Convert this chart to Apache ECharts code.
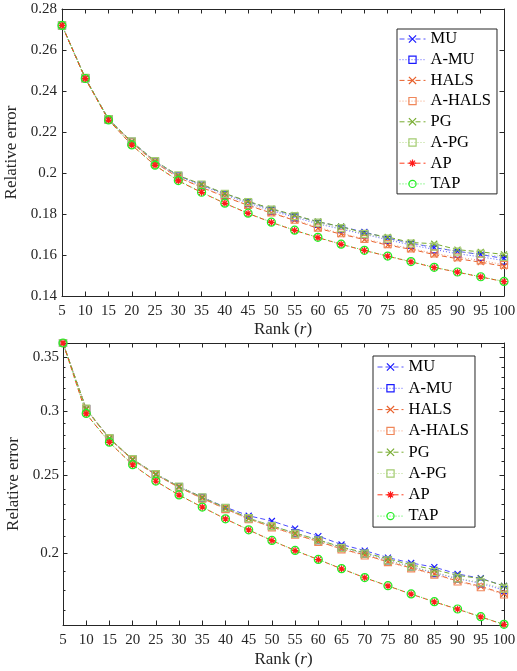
<!DOCTYPE html>
<html><head><meta charset="utf-8">
<script src="https://cdn.jsdelivr.net/npm/echarts@6/dist/echarts.min.js"></script>
<style>html,body{margin:0;padding:0;background:#fff}#c{width:517px;height:671px}</style>
</head><body><div id="c"></div>
<script>
// ---------- data ----------
const ranks = [5,10,15,20,25,30,35,40,45,50,55,60,65,70,75,80,85,90,95,100];
const seriesNames = ['MU','A-MU','HALS','A-HALS','PG','A-PG','AP','TAP'];

const topMU    = [0.2720,0.2463,0.2262,0.2153,0.2057,0.1987,0.1943,0.1899,0.1860,0.1824,0.1792,0.1762,0.1738,0.1712,0.1682,0.1658,0.1636,0.1618,0.1602,0.1583];
const topAMU   = [0.2720,0.2463,0.2262,0.2152,0.2055,0.1984,0.1939,0.1894,0.1853,0.1816,0.1784,0.1752,0.1726,0.1701,0.1674,0.1649,0.1627,0.1606,0.1591,0.1573];
const topHALS  = [0.2720,0.2462,0.2260,0.2148,0.2050,0.1978,0.1930,0.1884,0.1842,0.1805,0.1769,0.1730,0.1702,0.1675,0.1648,0.1628,0.1602,0.1582,0.1565,0.1545];
const topAHALS = [0.2720,0.2462,0.2260,0.2149,0.2051,0.1979,0.1932,0.1886,0.1845,0.1808,0.1772,0.1734,0.1706,0.1679,0.1653,0.1632,0.1608,0.1589,0.1574,0.1552];
const topPG    = [0.2720,0.2464,0.2263,0.2153,0.2058,0.1988,0.1945,0.1900,0.1862,0.1826,0.1795,0.1762,0.1739,0.1707,0.1688,0.1661,0.1655,0.1626,0.1615,0.1603];
const topAPG   = [0.2720,0.2464,0.2263,0.2154,0.2058,0.1988,0.1944,0.1898,0.1858,0.1821,0.1790,0.1758,0.1731,0.1703,0.1680,0.1656,0.1641,0.1616,0.1606,0.1591];
const topAP    = [0.2720,0.2460,0.2258,0.2136,0.2037,0.1962,0.1905,0.1852,0.1803,0.1759,0.1720,0.1685,0.1652,0.1622,0.1594,0.1567,0.1539,0.1516,0.1493,0.1470];
const topTAP   = [0.2720,0.2461,0.2259,0.2137,0.2038,0.1963,0.1906,0.1853,0.1804,0.1760,0.1721,0.1686,0.1653,0.1623,0.1595,0.1568,0.1540,0.1517,0.1494,0.1471];

const botMU    = [0.364,0.3015,0.2772,0.2612,0.2505,0.2418,0.2345,0.2280,0.2225,0.2192,0.2145,0.2100,0.2050,0.2015,0.1975,0.1945,0.1922,0.1885,0.1862,0.1822];
const botAMU   = [0.364,0.3015,0.2772,0.2612,0.2503,0.2415,0.2342,0.2273,0.2210,0.2162,0.2118,0.2076,0.2032,0.1998,0.1960,0.1925,0.1890,0.1860,0.1835,0.1800];
const botHALS  = [0.364,0.3012,0.2770,0.2608,0.2500,0.2412,0.2338,0.2270,0.2205,0.2155,0.2110,0.2068,0.2025,0.1990,0.1952,0.1918,0.1885,0.1848,0.1820,0.1782];
const botAHALS = [0.364,0.3012,0.2770,0.2608,0.2500,0.2410,0.2336,0.2268,0.2203,0.2153,0.2108,0.2066,0.2022,0.1987,0.1950,0.1915,0.1882,0.1845,0.1815,0.1778];
const botPG    = [0.364,0.3018,0.2775,0.2614,0.2506,0.2418,0.2345,0.2276,0.2210,0.2162,0.2118,0.2078,0.2035,0.2003,0.1968,0.1935,0.1908,0.1878,0.1860,0.1822];
const botAPG   = [0.364,0.3020,0.2776,0.2615,0.2506,0.2418,0.2345,0.2275,0.2210,0.2160,0.2115,0.2075,0.2030,0.1998,0.1960,0.1925,0.1895,0.1862,0.1840,0.1808];
const botAP    = [0.364,0.2975,0.2742,0.2572,0.2455,0.2360,0.2280,0.2205,0.2137,0.2073,0.2015,0.1964,0.1913,0.1865,0.1822,0.1780,0.1741,0.1705,0.1668,0.1632];
const botTAP   = [0.364,0.2978,0.2744,0.2574,0.2456,0.2361,0.2281,0.2206,0.2138,0.2074,0.2016,0.1965,0.1914,0.1866,0.1823,0.1781,0.1742,0.1706,0.1669,0.1633];

const topYTicks = [0.14,0.16,0.18,0.2,0.22,0.24,0.26,0.28];
const botYTicks = [0.2,0.25,0.3,0.35];
const botYMinorTicks = [0.17,0.18,0.19,0.21,0.22,0.23,0.24,0.26,0.27,0.28,0.29,0.31,0.32,0.33,0.34,0.36];
const botYRange = [0.163,0.364];

const topData = [topMU,topAMU,topHALS,topAHALS,topPG,topAPG,topAP,topTAP];
const botData = [botMU,botAMU,botHALS,botAHALS,botPG,botAPG,botAP,botTAP];

// ---------- styles ----------
const FONT = 'Liberation Serif';
const AX = '#262626';
const TK = '#262626';
const SYM_X = 'path://M0,0L10,10M10,0L0,10';
const SYM_STAR = 'path://M5,0L5,10M0,5L10,5M1.5,1.5L8.5,8.5M8.5,1.5L1.5,8.5';
const sty = {
  'MU':     {c:'#1a1aff', l:'#4d4dff', dash:[5,3], sym:SYM_X, size:6},
  'A-MU':   {c:'#1a1aff', l:'#5a5aff', dash:[1,2], sym:'rect', size:7},
  'HALS':   {c:'#e8612c', l:'#e8612c', dash:[5,3], sym:SYM_X, size:6},
  'A-HALS': {c:'#f0875a', l:'#f4a07a', dash:[1,2], sym:'rect', size:7},
  'PG':     {c:'#77ac30', l:'#77ac30', dash:[5,3], sym:SYM_X, size:6},
  'A-PG':   {c:'#a3cc70', l:'#b5d88a', dash:[1,2], sym:'rect', size:7},
  'AP':     {c:'#ff1a1a', l:'#ff3b1a', dash:[5,3], sym:SYM_STAR, size:7},
  'TAP':    {c:'#22ee22', l:'#44ee44', dash:[1,2], sym:'circle', size:8}
};

function mkSeries(name, vals, xi, yi) {
  const s = sty[name];
  return {
    name, type:'line', xAxisIndex:xi, yAxisIndex:yi,
    data: ranks.map((r,i)=>[r, vals[i]]),
    symbol: s.sym, symbolSize: s.size, showSymbol:true, silent:true,
    lineStyle:{color:s.l, width:1, type:s.dash},
    itemStyle:{color:'rgba(0,0,0,0)', borderColor:s.c, borderWidth:1.2},
    emphasis:{disabled:true}
  };
}

const labelStyle = {color:AX, fontFamily:FONT, fontSize:15};
const nameStyle = {color:AX, fontFamily:FONT, fontSize:17, rich:{i:{fontStyle:'italic', fontFamily:FONT, fontSize:17, color:AX}}};
const lineAx = {show:true, lineStyle:{color:AX, width:1}};
const tick = (len, extra) => Object.assign({show:true, inside:true, length:len, lineStyle:{color:TK, width:1}}, extra || {});

function xAxes(g, gap) {
  const base = {gridIndex:g, type:'value', min:5, max:100, interval:5, splitLine:{show:false},
    axisLine:lineAx, axisTick:tick(4.5)};
  return [
    Object.assign({}, base, {position:'bottom', axisLabel:Object.assign({margin:8}, labelStyle),
      name:'Rank ({i|r})', nameLocation:'middle', nameGap:gap, nameTextStyle:nameStyle}),
    Object.assign({}, base, {position:'top', axisLabel:{show:false}})
  ];
}

const fmt = v => String(+(+v).toFixed(4));

const option = {
  animation:false,
  backgroundColor:'#fff',
  grid:[
    {left:62, top:9, width:442, height:287, outerBoundsMode:'none'},
    {left:63, top:343, width:441, height:282, outerBoundsMode:'none'}
  ],
  xAxis: [...xAxes(0, 25), ...xAxes(1, 26)],
  yAxis: [
    {gridIndex:0, type:'value', position:'left', min:topYTicks[0], max:topYTicks[topYTicks.length-1], interval:0.02,
     splitLine:{show:false}, axisLine:lineAx, axisTick:tick(4.5),
     axisLabel:Object.assign({margin:5, formatter:fmt}, labelStyle),
     name:'Relative error', nameLocation:'middle', nameGap:35, nameTextStyle:nameStyle},
    {gridIndex:0, type:'value', position:'right', min:topYTicks[0], max:topYTicks[topYTicks.length-1], interval:0.02,
     splitLine:{show:false}, axisLine:lineAx, axisTick:tick(4.5), axisLabel:{show:false}},
    {gridIndex:1, type:'log', position:'left', min:botYRange[0], max:botYRange[1],
     splitLine:{show:false}, axisLine:lineAx,
     axisTick:tick(4.5, {customValues:botYTicks}),
     axisLabel:Object.assign({margin:4, formatter:fmt, customValues:botYTicks}, labelStyle),
     minorTick:{show:false},
     name:'Relative error', nameLocation:'middle', nameGap:36, nameTextStyle:nameStyle},
    {gridIndex:1, type:'log', position:'left', min:botYRange[0], max:botYRange[1],
     splitLine:{show:false}, axisLine:{show:false},
     axisTick:tick(2.5, {customValues:botYMinorTicks}),
     axisLabel:{show:false}},
    {gridIndex:1, type:'log', position:'right', min:botYRange[0], max:botYRange[1],
     splitLine:{show:false}, axisLine:lineAx,
     axisTick:tick(4.5, {customValues:botYTicks}),
     axisLabel:{show:false}},
    {gridIndex:1, type:'log', position:'right', min:botYRange[0], max:botYRange[1],
     splitLine:{show:false}, axisLine:{show:false},
     axisTick:tick(2.5, {customValues:botYMinorTicks}),
     axisLabel:{show:false}}
  ],
  legend:[
    {orient:'vertical', left:397, top:29, itemWidth:26, itemHeight:9, itemGap:2.7, itemTextGap:4,
     padding:[1,6,1,2], borderColor:AX, borderWidth:1, backgroundColor:'#fff',
     textStyle:{fontFamily:FONT, fontSize:16.5, color:'#000', lineHeight:18},
     itemStyle:{borderWidth:1.2}, lineStyle:{width:1},
     selectedMode:false, data:seriesNames},
    {orient:'vertical', left:373, top:356, itemWidth:26, itemHeight:9, itemGap:3.3, itemTextGap:3.5,
     padding:[2,6,2,4], borderColor:AX, borderWidth:1, backgroundColor:'#fff',
     textStyle:{fontFamily:FONT, fontSize:16.5, color:'#000', lineHeight:18},
     itemStyle:{borderWidth:1.2}, lineStyle:{width:1},
     selectedMode:false, data:seriesNames}
  ],
  series: [
    ...seriesNames.map((n,i)=>mkSeries(n, topData[i], 0, 0)),
    ...seriesNames.map((n,i)=>mkSeries(n, botData[i], 2, 2))
  ]
};
const chart = echarts.init(document.getElementById('c'), null, {renderer:'canvas'});
chart.setOption(option);
</script>
</body></html>
